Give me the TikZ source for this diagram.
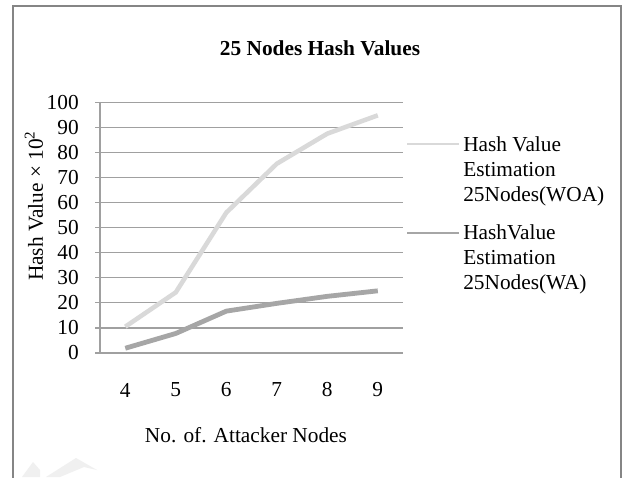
\documentclass[tikz,border=0pt]{standalone}
\usepackage{fontspec}
\setmainfont{Liberation Serif}
\definecolor{gridgray}{HTML}{A0A0A0}
\definecolor{framegray}{HTML}{858585}
\definecolor{woacol}{HTML}{D9D9D9}
\definecolor{wacol}{HTML}{A6A6A6}
\definecolor{wmcol}{HTML}{F0F0F0}
\begin{document}
\begin{tikzpicture}[x=0.75pt,y=-0.75pt,
  lbl/.style={font=\fontsize{16}{18.75}\selectfont, inner sep=0pt},
  gridline/.style={draw=gridgray, line width=0.9pt},
  woaline/.style={draw=woacol, line width=3.4pt, line join=round},
  waline/.style={draw=wacol, line width=3.6pt, line join=round},
  legline/.style={line width=1.6pt}]
\useasboundingbox (0,0) rectangle (630,477);
\fill[white] (0,0) rectangle (630,477);
% watermark traces
\fill[wmcol] (22,477) -- (33,462) -- (40,470) -- (40,477) -- cycle;
\fill[wmcol] (46,477) -- (76,458) -- (97,470) -- (84,467) -- (60,477) -- cycle;
% frame
\draw[framegray, line width=1.6pt] (13,480) -- (13,6) -- (621,6) -- (621,480);
% title
\node[lbl, font=\fontsize{16}{18}\selectfont\bfseries] (title) at (320,48) {25 Nodes Hash Values};
% gridlines and y labels
\foreach \v in {0,10,...,100}{
  \draw[gridline] (95,{353-2.507*\v}) -- (403,{353-2.507*\v});
  \node[lbl, anchor=east] (y\v) at (79,{353-2.507*\v}) {\v};
}
\draw[gridline] (100,102) -- (100,353);
% x labels
\foreach \c [count=\i from 0] in {4,5,6,7,8,9}{
  \node[lbl] (x\c) at ({125.3+50.5*\i},390) {\c};
}
\node[lbl] (xtitle) at (246,435) {No. of. Attacker Nodes};
\node[lbl, rotate=90] (ytitle) at (34,206) {Hash Value × 10\textsuperscript{2}};
% data
\foreach \c/\a/\b [count=\i from 0] in {4/10.5/1.9,5/24.2/7.8,6/56/16.7,7/75.5/19.8,8/87.5/22.6,9/94.8/24.8}{
  \coordinate (p\c) at ({125.3+50.5*\i},{353-2.507*\a});
  \coordinate (q\c) at ({125.3+50.5*\i},{353-2.507*\b});
}
\draw[woaline] (p4) -- (p5) -- (p6) -- (p7) -- (p8) -- (p9);
\draw[waline] (q4) -- (q5) -- (q6) -- (q7) -- (q8) -- (q9);
% legend
\coordinate (l1a) at (407,144); \coordinate (l1b) at (459,144);
\coordinate (l2a) at (407,233); \coordinate (l2b) at (459,233);
\draw[legline, woacol] (l1a) -- (l1b);
\draw[legline, wacol] (l2a) -- (l2b);
\node[lbl, anchor=west, align=left] (leg1) at (463,171) {Hash Value\\Estimation\\25Nodes(WOA)};
\node[lbl, anchor=west, align=left] (leg2) at (463,259) {HashValue\\Estimation\\25Nodes(WA)};
\end{tikzpicture}
\end{document}
